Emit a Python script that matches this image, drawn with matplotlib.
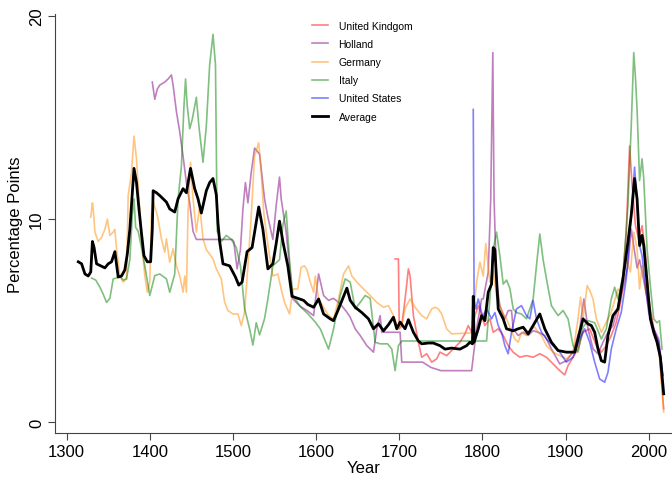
import matplotlib
matplotlib.use("Agg")
import matplotlib.pyplot as plt

plt.rcParams['font.family'] = ['Liberation Sans', 'DejaVu Sans']

# (year, percentage points)
uk = [(1695, 8.04), (1699, 8.04), (1700, 4.6), (1703, 4.76), (1707, 6.07), (1711, 7.55),
      (1713, 7.2), (1717, 5.25), (1720, 4.6), (1723, 3.94), (1727, 3.2), (1733, 3.37),
      (1739, 2.96), (1745, 3.12), (1749, 3.45), (1757, 3.28), (1765, 3.61), (1773, 3.94),
      (1779, 4.35), (1783, 4.76), (1787, 4.43), (1791, 5.25), (1795, 5.74), (1799, 5.25),
      (1803, 4.76), (1809, 5.09), (1813, 4.43), (1819, 4.6), (1825, 4.27), (1831, 3.77),
      (1837, 3.45), (1845, 3.2), (1853, 3.28), (1861, 3.2), (1869, 3.37), (1877, 3.2),
      (1885, 2.87), (1893, 2.54), (1899, 2.33), (1903, 2.79), (1909, 3.2), (1915, 3.61),
      (1921, 4.43), (1929, 4.6), (1937, 3.77), (1943, 3.45), (1949, 3.77), (1955, 4.27),
      (1961, 4.93), (1967, 6.07), (1973, 9.36), (1977, 13.6), (1980, 11.7), (1984, 9.7),
      (1988, 9.0), (1992, 9.68), (1996, 8.37), (2000, 6.07), (2006, 4.6), (2012, 3.77),
      (2018, 0.66)]

holland = [(1403, 16.75), (1406, 15.9), (1409, 16.4), (1412, 16.6), (1418, 16.75), (1422, 16.9),
           (1426, 17.1), (1428, 16.6), (1432, 15.3), (1436, 14.3), (1440, 13.1), (1444, 11.8),
           (1448, 10.8), (1452, 9.4), (1456, 9.0), (1499, 9.0), (1501, 8.9), (1505, 7.55),
           (1509, 8.5), (1512, 10.5), (1515, 11.8), (1518, 10.8), (1522, 12.3), (1526, 13.5),
           (1532, 13.2), (1538, 11.0), (1542, 10.1), (1548, 9.0), (1552, 10.67), (1556, 12.07),
           (1558, 11.0), (1564, 9.36), (1572, 6.07), (1581, 5.7), (1589, 5.5), (1597, 5.25),
           (1603, 7.3), (1609, 6.24), (1615, 6.0), (1621, 6.1), (1629, 5.83), (1637, 5.42),
           (1641, 5.17), (1647, 4.6), (1653, 4.27), (1661, 3.77), (1669, 3.45), (1673, 4.6),
           (1677, 5.25), (1679, 4.43), (1701, 4.43), (1703, 2.96), (1728, 2.96), (1738, 2.7),
           (1750, 2.54), (1787, 2.54), (1793, 4.6), (1799, 6.07), (1801, 6.07), (1807, 7.39),
           (1810, 11.0), (1812.5, 18.2), (1814, 11.0), (1817, 6.9), (1821, 5.74), (1827, 5.09),
           (1831, 5.5), (1835, 5.5), (1837, 4.6), (1843, 4.27), (1849, 4.43), (1855, 4.27),
           (1861, 4.51), (1867, 4.43), (1875, 4.27), (1883, 3.61), (1893, 2.87), (1901, 3.03),
           (1909, 3.45), (1917, 4.6), (1922, 6.07), (1927, 4.6), (1933, 3.61), (1939, 3.37),
           (1945, 3.94), (1951, 4.43), (1957, 4.76), (1963, 5.66), (1969, 6.56), (1975, 7.7),
           (1979, 9.52), (1983, 8.4), (1986, 7.6), (1989, 8.0), (1992, 7.4), (1996, 6.56),
           (2000, 5.74), (2006, 4.6), (2012, 4.1), (2017, 2.3)]

germany = [(1329, 10.1), (1331, 10.8), (1332, 10.5), (1334, 9.36), (1338, 8.9), (1342, 9.1),
           (1346, 9.5), (1349, 10.0), (1352, 9.2), (1356, 9.36), (1358, 9.5), (1360, 8.54),
           (1364, 7.2), (1368, 6.9), (1372, 7.06), (1374, 11.16), (1378, 12.3), (1381, 14.09),
           (1384, 12.97), (1387, 11.0), (1390, 9.03), (1394, 7.22), (1397, 6.4), (1400, 6.9),
           (1402, 10.2), (1404, 10.84), (1408, 10.35), (1410, 10.0), (1414, 9.03), (1418, 8.37),
           (1420, 9.03), (1424, 7.88), (1428, 8.54), (1432, 7.7), (1436, 7.2), (1440, 6.4),
           (1442, 7.2), (1444, 6.4), (1446, 10.35), (1449, 12.8), (1452, 11.0), (1456, 9.36),
           (1460, 10.67), (1464, 9.03), (1468, 8.5), (1476, 8.04), (1480, 7.55), (1486, 7.06),
           (1490, 5.9), (1494, 5.5), (1500, 5.33), (1506, 5.33), (1510, 4.76), (1514, 5.42),
           (1518, 7.7), (1522, 10.18), (1526, 13.1), (1531, 13.76), (1534, 12.3), (1537, 10.35),
           (1540, 9.36), (1544, 8.2), (1548, 7.2), (1554, 7.3), (1558, 6.56), (1562, 5.9),
           (1568, 5.33), (1572, 6.56), (1578, 6.56), (1582, 7.63), (1586, 7.7), (1589, 7.5),
           (1593, 6.9), (1597, 6.4), (1599, 7.2), (1603, 6.07), (1609, 5.66), (1615, 5.25),
           (1621, 5.09), (1627, 6.07), (1633, 7.3), (1639, 7.7), (1643, 7.2), (1649, 6.9),
           (1657, 6.56), (1665, 6.24), (1673, 5.9), (1681, 5.66), (1687, 5.74), (1693, 5.25),
           (1699, 4.6), (1703, 4.76), (1707, 5.6), (1713, 6.07), (1719, 5.66), (1727, 5.25),
           (1733, 5.09), (1739, 5.58), (1743, 5.66), (1747, 5.58), (1751, 5.33), (1757, 4.6),
           (1763, 4.35), (1787, 4.4), (1789, 5.25), (1793, 6.9), (1797, 7.88), (1801, 7.2),
           (1804, 8.8), (1809, 6.9), (1813, 7.5), (1817, 6.2), (1821, 5.74), (1825, 5.33),
           (1829, 5.1), (1833, 4.68), (1839, 4.1), (1843, 3.94), (1847, 4.43), (1853, 4.27),
           (1859, 4.6), (1863, 4.68), (1867, 4.43), (1871, 4.27), (1877, 3.77), (1885, 3.45),
           (1893, 3.28), (1901, 3.12), (1909, 3.45), (1915, 5.09), (1918, 6.16), (1921, 5.09),
           (1926, 6.73), (1929, 6.5), (1933, 6.07), (1937, 5.09), (1943, 4.43), (1949, 4.93),
           (1955, 5.42), (1959, 5.99), (1963, 6.56), (1967, 6.4), (1973, 8.04), (1978, 7.4),
           (1982, 9.36), (1986, 8.54), (1989, 6.56), (1992, 7.7), (1996, 6.56), (2000, 5.58),
           (2006, 4.6), (2012, 3.77), (2018, 0.5)]

italy = [(1330, 7.1), (1335, 7.0), (1340, 6.65), (1344, 6.3), (1348, 5.9), (1352, 6.1),
         (1356, 7.06), (1360, 7.1), (1364, 7.2), (1368, 7.0), (1372, 7.06), (1376, 8.0),
         (1379, 10.2), (1381, 11.0), (1383, 9.6), (1386, 9.4), (1390, 8.6), (1394, 7.7),
         (1400, 6.24), (1406, 7.22), (1412, 7.3), (1420, 7.06), (1424, 6.4), (1430, 7.3),
         (1434, 11.0), (1438, 12.6), (1441, 15.5), (1443, 16.9), (1445, 15.6), (1448, 14.45),
         (1451, 14.9), (1456, 16.0), (1459, 14.6), (1464, 12.8), (1468, 14.6), (1472, 17.6),
         (1476, 19.1), (1479, 17.6), (1481, 9.4), (1486, 8.9), (1492, 9.2), (1498, 9.0),
         (1504, 8.6), (1509, 7.7), (1514, 5.6), (1520, 4.6), (1524, 3.8), (1528, 4.9),
         (1532, 4.3), (1538, 5.1), (1542, 6.07), (1548, 7.7), (1556, 8.0), (1560, 9.7),
         (1564, 10.4), (1568, 8.0), (1572, 6.24), (1581, 5.7), (1591, 5.3), (1599, 4.93),
         (1605, 4.6), (1615, 3.6), (1621, 4.6), (1629, 6.24), (1635, 7.06), (1641, 6.9),
         (1647, 5.58), (1653, 5.9), (1659, 6.24), (1665, 6.1), (1671, 3.94), (1677, 3.86),
         (1686, 3.86), (1691, 3.6), (1695, 2.54), (1699, 3.77), (1703, 4.0), (1805, 4.0),
         (1809, 6.1), (1813, 8.5), (1817, 9.36), (1821, 8.2), (1825, 6.8), (1829, 7.0),
         (1833, 6.6), (1837, 5.58), (1841, 5.4), (1847, 5.33), (1853, 5.09), (1861, 6.07),
         (1865, 7.7), (1869, 9.27), (1873, 8.0), (1877, 7.06), (1883, 5.74), (1891, 5.25),
         (1897, 5.5), (1903, 5.09), (1909, 3.77), (1915, 3.45), (1921, 4.68), (1927, 5.0),
         (1935, 4.9), (1943, 4.1), (1949, 4.6), (1955, 6.07), (1959, 6.65), (1963, 6.07),
         (1969, 7.2), (1975, 10.67), (1979, 14.6), (1982, 18.2), (1984, 17.0), (1986, 15.4),
         (1989, 11.9), (1992, 12.97), (1994, 12.0), (1998, 8.54), (2002, 6.7), (2006, 5.09),
         (2010, 4.9), (2013, 5.0), (2016, 3.6)]

us = [(1789, 15.4), (1790, 6.0), (1792, 5.58), (1795, 6.07), (1799, 5.4), (1801, 5.25),
      (1805, 5.58), (1811, 5.09), (1815, 5.4), (1819, 4.76), (1823, 4.43), (1827, 3.77),
      (1831, 3.37), (1835, 4.43), (1841, 5.58), (1847, 5.74), (1853, 5.25), (1857, 5.09),
      (1861, 5.99), (1865, 5.09), (1871, 4.43), (1877, 4.1), (1885, 3.77), (1893, 3.45),
      (1901, 2.96), (1909, 3.2), (1917, 4.1), (1923, 4.6), (1929, 3.94), (1935, 2.96),
      (1941, 2.13), (1947, 1.97), (1951, 2.46), (1955, 3.61), (1961, 4.6), (1967, 5.42),
      (1973, 7.06), (1979, 10.18), (1983, 12.56), (1986, 10.8), (1989, 8.7), (1992, 8.2),
      (1996, 6.7), (2000, 5.4), (2006, 4.6), (2012, 3.94), (2017, 2.3)]

average = [(1314, 7.9), (1318, 7.8), (1322, 7.3), (1326, 7.2), (1329, 7.4), (1331, 8.9),
           (1333, 8.6), (1336, 7.8), (1341, 7.7), (1346, 7.6), (1350, 7.8), (1354, 7.9),
           (1358, 8.4), (1362, 7.15), (1366, 7.2), (1370, 7.5), (1373, 8.3), (1376, 9.5),
           (1379, 11.3), (1381, 12.5), (1384, 11.8), (1387, 10.5), (1390, 9.3), (1393, 8.2),
           (1397, 7.9), (1401, 7.9), (1403, 9.5), (1404, 11.4), (1408, 11.3), (1412, 11.16),
           (1416, 11.0), (1420, 10.84), (1424, 10.5), (1430, 10.35), (1434, 11.0), (1440, 11.5),
           (1444, 11.3), (1449, 12.5), (1454, 11.5), (1458, 11.0), (1462, 10.3), (1468, 11.4),
           (1472, 11.8), (1476, 12.0), (1480, 11.2), (1482, 9.8), (1484, 8.9), (1488, 7.8),
           (1496, 7.7), (1503, 7.15), (1507, 6.75), (1511, 6.9), (1517, 8.4), (1523, 8.6),
           (1527, 9.6), (1531, 10.6), (1536, 9.5), (1542, 7.55), (1548, 7.8), (1552, 8.8),
           (1556, 9.9), (1560, 8.9), (1566, 7.7), (1571, 6.2), (1578, 6.1), (1585, 6.0),
           (1590, 5.8), (1597, 5.66), (1603, 6.07), (1609, 5.33), (1617, 5.09), (1621, 5.0),
           (1627, 5.58), (1633, 6.2), (1637, 6.6), (1641, 6.0), (1647, 5.66), (1655, 5.4),
           (1663, 5.09), (1669, 4.6), (1675, 4.85), (1681, 4.5), (1687, 4.8), (1693, 5.17),
           (1697, 4.6), (1701, 4.93), (1707, 4.6), (1711, 5.05), (1717, 4.43), (1723, 4.0),
           (1727, 3.86), (1735, 3.9), (1741, 3.9), (1749, 3.77), (1755, 3.6), (1763, 3.65),
           (1773, 3.6), (1781, 3.77), (1785, 3.94), (1788, 3.86), (1789, 6.2), (1790, 3.94),
           (1795, 4.6), (1799, 5.25), (1803, 5.0), (1807, 6.4), (1811, 6.8), (1813, 8.6),
           (1815, 8.5), (1819, 5.58), (1825, 5.09), (1829, 4.6), (1837, 4.5), (1843, 4.6),
           (1849, 4.68), (1855, 4.35), (1861, 4.76), (1869, 5.33), (1875, 4.6), (1883, 3.94),
           (1891, 3.53), (1901, 3.45), (1911, 3.45), (1917, 4.43), (1921, 5.09), (1927, 4.84),
           (1931, 4.76), (1935, 4.43), (1939, 3.61), (1943, 3.03), (1947, 2.96), (1951, 4.27),
           (1957, 5.25), (1963, 5.58), (1969, 7.06), (1975, 8.87), (1979, 10.2), (1983, 12.0),
           (1986, 11.0), (1989, 8.7), (1992, 9.2), (1994, 8.7), (1998, 6.9), (2002, 5.09),
           (2006, 4.43), (2010, 3.94), (2014, 3.2), (2018, 1.4)]

series = [
    ("United Kindgom", uk, "red"),
    ("Holland", holland, "purple"),
    ("Germany", germany, "darkorange"),
    ("Italy", italy, "green"),
    ("United States", us, "blue"),
]

fig = plt.figure(figsize=(6.72, 4.81), dpi=100)
ax = fig.add_axes([55 / 672, 47 / 481, 617 / 672, 419 / 481])

for name, pts, col in series:
    xs, ys = zip(*pts)
    ax.plot(xs, ys, color=col, alpha=0.5, linewidth=1.2, label=name)
xs, ys = zip(*average)
ax.plot(xs, ys, color="black", linewidth=2.0, label="Average")

ax.set_xlim(1286, 2028)
ax.set_ylim(-0.53, 20.1)
ax.set_xticks(range(1300, 2001, 100))
ax.set_yticks([0, 10, 20])
for lab in ax.get_yticklabels():
    lab.set_rotation(90)
    lab.set_va("center")

for s in ["top", "right"]:
    ax.spines[s].set_visible(False)
for s in ["left", "bottom"]:
    ax.spines[s].set_color("#444444")
ax.tick_params(axis="both", labelsize=12, length=5, color="#444444", pad=3)

ax.set_xlabel("Year", fontsize=12, labelpad=1)
ax.set_ylabel("Percentage Points", fontsize=12, labelpad=4)

fig.legend(loc="upper left", bbox_to_anchor=(312 / 672, 1 - 22 / 481),
           frameon=False, fontsize=7.5, handlelength=1.55, handletextpad=1.0,
           labelspacing=0.78, borderpad=0, borderaxespad=0)

fig.savefig("out.png", dpi=100)
